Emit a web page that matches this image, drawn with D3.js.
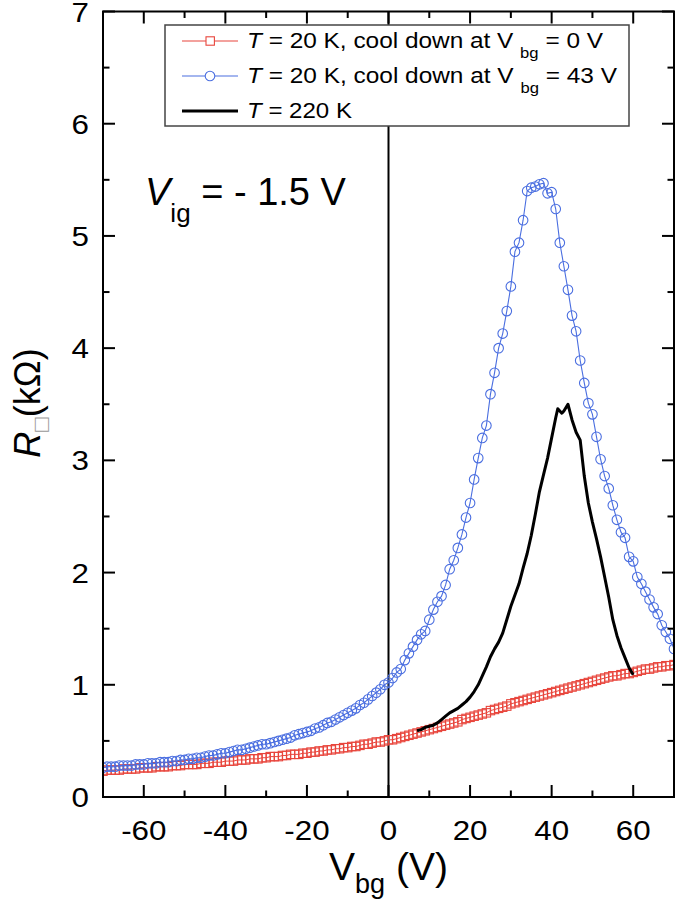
<!DOCTYPE html>
<html>
<head>
<meta charset="utf-8">
<script src="https://cdn.jsdelivr.net/npm/d3@7/dist/d3.min.js"></script>
<style>
html,body{margin:0;padding:0;background:#fff;}
svg{display:block;}
text{font-family:"Liberation Sans", Arial, Helvetica, sans-serif;fill:#000;}
</style>
</head>
<body>
<svg id="chart" width="675" height="899"></svg>
<script>
// ---------------- data ----------------
const xTicks = [-60, -40, -20, 0, 20, 40, 60];
const yTicks = [0, 1, 2, 3, 4, 5, 6, 7];

// T = 20 K, cool down at Vbg = 43 V (blue circles), Vbg = -70..70 step 1
const blueV = d3.range(-70, 71, 1);
const blueR = [
 0.26,0.27,0.27,0.27,0.28,0.28,0.28,0.28,0.29,0.29,
 0.29,0.30,0.30,0.30,0.31,0.31,0.31,0.32,0.32,0.33,
 0.33,0.34,0.34,0.35,0.35,0.36,0.37,0.37,0.38,0.39,
 0.39,0.40,0.41,0.42,0.42,0.43,0.44,0.45,0.46,0.47,
 0.47,0.48,0.49,0.50,0.51,0.52,0.53,0.55,0.56,0.57,
 0.58,0.59,0.61,0.62,0.64,0.66,0.67,0.69,0.71,0.73,
 0.75,0.77,0.79,0.82,0.84,0.87,0.90,0.93,0.96,1.00,
 1.02,1.06,1.11,1.14,1.22,1.28,1.34,1.40,1.45,1.48,
 1.58,1.67,1.74,1.79,1.89,2.03,2.11,2.22,2.34,2.49,
 2.62,2.83,3.02,3.20,3.31,3.59,3.78,4.00,4.13,4.33,
 4.55,4.86,4.94,5.14,5.40,5.43,5.44,5.46,5.47,5.38,
 5.39,5.24,4.94,4.73,4.52,4.29,4.15,3.89,3.69,3.51,
 3.41,3.21,3.01,2.86,2.75,2.60,2.47,2.36,2.31,2.14,
 2.10,1.96,1.90,1.83,1.76,1.69,1.63,1.53,1.47,1.41,
 1.32
];

// T = 20 K, cool down at Vbg = 0 V (red squares), Vbg = -70..70 step 1
const redV = d3.range(-70, 71, 1);
const redR = [
 0.23,0.24,0.24,0.24,0.24,0.25,0.25,0.25,0.25,0.26,
 0.26,0.26,0.26,0.27,0.27,0.27,0.27,0.28,0.28,0.28,
 0.29,0.29,0.29,0.29,0.30,0.30,0.30,0.31,0.31,0.31,
 0.32,0.32,0.32,0.33,0.33,0.33,0.34,0.34,0.34,0.35,
 0.35,0.36,0.36,0.36,0.37,0.37,0.38,0.38,0.38,0.39,
 0.39,0.40,0.40,0.41,0.41,0.42,0.42,0.43,0.43,0.44,
 0.44,0.45,0.45,0.46,0.47,0.47,0.48,0.49,0.49,0.50,
 0.51,0.51,0.52,0.53,0.54,0.55,0.56,0.57,0.58,0.59,
 0.60,0.61,0.62,0.63,0.64,0.65,0.66,0.67,0.69,0.70,
 0.71,0.72,0.73,0.74,0.75,0.77,0.78,0.79,0.80,0.81,
 0.83,0.84,0.85,0.86,0.87,0.88,0.89,0.90,0.91,0.92,
 0.93,0.94,0.95,0.96,0.97,0.98,0.99,1.00,1.01,1.02,
 1.03,1.04,1.05,1.06,1.07,1.08,1.08,1.09,1.10,1.10,
 1.11,1.12,1.13,1.14,1.14,1.15,1.16,1.16,1.17,1.17,
 1.18
];

// T = 220 K (black line)
const blackV = [7,8,9,10,11,12,13,14,15,16,17,18,19,20,21,22,23,24,25,26,27,28,29,30,31,32,33,34,35,36,37,38,39,40,41,41.5,42.5,43,44,45,46,47,48,49,50,51,52,53,54,55,56,57,58,59,60];
const blackR = [0.59,0.60,0.62,0.63,0.64,0.66,0.69,0.72,0.75,0.77,0.79,0.82,0.85,0.89,0.94,1.00,1.08,1.16,1.25,1.32,1.38,1.46,1.58,1.70,1.80,1.90,2.04,2.17,2.33,2.52,2.72,2.87,3.02,3.20,3.38,3.46,3.42,3.44,3.50,3.36,3.25,3.18,2.86,2.62,2.45,2.30,2.14,1.96,1.78,1.58,1.44,1.33,1.24,1.15,1.09];

const legendLabels = ["T = 20 K, cool down at V bg = 0 V", "T = 20 K, cool down at V bg = 43 V", "T = 220 K"];

// ---------------- layout ----------------
const svg = d3.select("#chart");
const L = 103, R = 674, T = 11.5, B = 797;
const x = d3.scaleLinear().domain([-70, 70]).range([L, R]);
const y = d3.scaleLinear().domain([0, 7]).range([B, T]);

const RED = "#e8453c", BLUE = "#4a6ee0";

// clip
svg.append("defs").append("clipPath").attr("id","clip")
  .append("rect").attr("x",L).attr("y",T).attr("width",R-L).attr("height",B-T);

const plot = svg.append("g").attr("clip-path","url(#clip)");

// vertical line at Vbg = 0
plot.append("line").attr("x1",x(0)).attr("x2",x(0)).attr("y1",T).attr("y2",B)
  .attr("stroke","#000").attr("stroke-width",2);

// red series
const redData = redV.map((v,i)=>[v, redR[i]]);
const line = d3.line().x(d=>x(d[0])).y(d=>y(d[1]));
plot.append("path").datum(redData).attr("d",line).attr("fill","none")
  .attr("stroke",RED).attr("stroke-width",1);
plot.selectAll("rect.red").data(redData).enter().append("rect").attr("class","red")
  .attr("x",d=>x(d[0])-4.2).attr("y",d=>y(d[1])-4.2).attr("width",8.4).attr("height",8.4)
  .attr("fill","none").attr("stroke",RED).attr("stroke-width",1.1);

// black line
const blackData = blackV.map((v,i)=>[v, blackR[i]]);
plot.append("path").datum(blackData).attr("d",line).attr("fill","none")
  .attr("stroke","#000").attr("stroke-width",3).attr("stroke-linejoin","round");

// blue series
const blueData = blueV.map((v,i)=>[v, blueR[i]]);
plot.append("path").datum(blueData).attr("d",line).attr("fill","none")
  .attr("stroke",BLUE).attr("stroke-width",1.1);
plot.selectAll("circle.blue").data(blueData).enter().append("circle").attr("class","blue")
  .attr("cx",d=>x(d[0])).attr("cy",d=>y(d[1])).attr("r",4.8)
  .attr("fill","none").attr("stroke",BLUE).attr("stroke-width",1.1);

// axes (ticks inward)
const xMinor = d3.range(-70, 71, 10);
const yMinor = d3.range(0, 7.01, 0.5);
function ticksX(g, yy, dir){
  g.selectAll(null).data(xMinor).enter().append("line")
    .attr("x1",d=>x(d)).attr("x2",d=>x(d))
    .attr("y1",yy).attr("y2",d=> yy + dir*((d%20===0)?12:6.5))
    .attr("stroke","#000").attr("stroke-width",2);
}
function ticksY(g, xx, dir){
  g.selectAll(null).data(yMinor).enter().append("line")
    .attr("y1",d=>y(d)).attr("y2",d=>y(d))
    .attr("x1",xx).attr("x2",d=> xx + dir*((Math.abs(d-Math.round(d))<1e-6)?12:6.5))
    .attr("stroke","#000").attr("stroke-width",2);
}
const ax = svg.append("g");
ticksX(ax, B, -1);
ticksX(ax, T, 1);
ticksY(ax, L, 1);
ticksY(ax, R, -1);
ax.append("rect").attr("x",L).attr("y",T).attr("width",R-L).attr("height",B-T)
  .attr("fill","none").attr("stroke","#000").attr("stroke-width",2);

// tick labels
svg.append("g").selectAll("text").data(xTicks).enter().append("text")
  .attr("transform",d=>`translate(${x(d)},840) scale(1.12,1)`)
  .attr("text-anchor","middle").attr("font-size",28).text(d=>d);
svg.append("g").selectAll("text").data(yTicks).enter().append("text")
  .attr("transform",d=>`translate(89,${y(d)+10}) scale(1.12,1)`)
  .attr("text-anchor","end").attr("font-size",28).text(d=>d);

// axis titles
const xt = svg.append("text").attr("x",x(0)).attr("y",880).attr("text-anchor","middle").attr("font-size",39);
xt.append("tspan").text("V");
xt.append("tspan").attr("font-size",27).attr("dy",13).text("bg");
xt.append("tspan").attr("dy",-13).text(" (V)");

const yt = svg.append("text").attr("transform","translate(40,403) rotate(-90)")
  .attr("text-anchor","middle").attr("font-size",36);
yt.append("tspan").attr("font-style","italic").text("R");
yt.append("tspan").attr("font-size",24).attr("dy",9).attr("fill","#999").text("\u25A1");
yt.append("tspan").attr("dy",-9).text("(k\u03A9)");

// annotation
const an = svg.append("text").attr("x",145).attr("y",205).attr("font-size",38);
an.append("tspan").attr("font-style","italic").text("V");
an.append("tspan").attr("font-size",26).attr("dy",17).text("ig");
an.append("tspan").attr("dy",-17).text(" = - 1.5 V");

// legend
const lg = svg.append("g");
lg.append("rect").attr("x",165).attr("y",25).attr("width",464).attr("height",101)
  .attr("fill","#fff").attr("stroke","#444").attr("stroke-width",1.5);
const rowsY = [41, 76, 111];
const rowW = [356, 370, 105];
legendLabels.forEach((lab,i)=>{
  const yy = rowsY[i];
  const col = i===0?RED:(i===1?BLUE:"#000");
  lg.append("line").attr("x1",182).attr("x2",238).attr("y1",yy).attr("y2",yy)
    .attr("stroke",col).attr("stroke-width",i===2?3:1.2);
  if(i===0) lg.append("rect").attr("x",206).attr("y",yy-4.2).attr("width",8.4).attr("height",8.4)
      .attr("fill","#fff").attr("stroke",RED).attr("stroke-width",1.1);
  if(i===1) lg.append("circle").attr("cx",210).attr("cy",yy).attr("r",4.8)
      .attr("fill","#fff").attr("stroke",BLUE).attr("stroke-width",1.1);
  const t = lg.append("text").attr("x",247).attr("y",yy+6.5).attr("font-size",22)
     .attr("textLength",rowW[i]).attr("lengthAdjust","spacingAndGlyphs");
  const parts = lab.split(" bg ");
  const first = parts[0];
  t.append("tspan").attr("font-style","italic").text("T");
  if(parts.length>1){
    t.append("tspan").text(first.slice(1) + " ");
    t.append("tspan").attr("font-size",15).attr("dy",10).text("bg");
    t.append("tspan").attr("dy",-10).text(" " + parts[1]);
  } else {
    t.append("tspan").text(first.slice(1));
  }
});
</script>
</body>
</html>
